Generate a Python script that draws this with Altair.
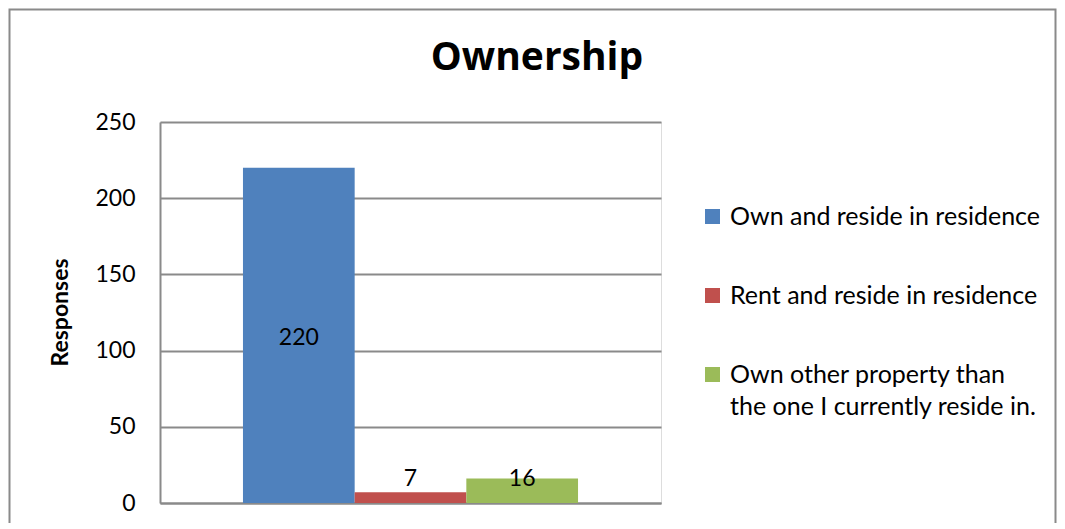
import altair as alt
import pandas as pd

categories = [
    "Own and reside in residence",
    "Rent and reside in residence",
    "Own other property than the one I currently reside in.",
]
values = [220, 7, 16]
colors = ["#4F81BD", "#C0504D", "#9BBB59"]
y_ticks = [0, 50, 100, 150, 200, 250]
chart_title = "Ownership"

df = pd.DataFrame({"category": categories, "value": values})

FONT = "Lato"
GRID = "#8a8a8a"

base = alt.Chart(df)

bars = base.mark_bar(size=111.7).encode(
    x=alt.X(
        "category:N",
        sort=categories,
        scale=alt.Scale(domain=categories, paddingInner=0, paddingOuter=0.743),
        axis=alt.Axis(
            labels=False, ticks=False, title=None, grid=False,
            domainColor=GRID, domainWidth=2,
        ),
    ),
    y=alt.Y(
        "value:Q",
        scale=alt.Scale(domain=[0, 250], nice=False),
        axis=alt.Axis(
            values=y_ticks, title="Responses", grid=True, gridColor=GRID,
            gridWidth=2, ticks=False, domainColor=GRID, domainWidth=2,
            labelFont=FONT, labelFontSize=23, labelColor="black", labelPadding=25,
            titleFont=FONT, titleFontSize=23, titleFontWeight="bold",
            titleColor="black", titleX=-93, titleY=190, titleAngle=270,
            titleBaseline="alphabetic", titleAlign="center",
        ),
    ),
    color=alt.Color(
        "category:N",
        sort=categories,
        scale=alt.Scale(domain=categories, range=colors),
        legend=alt.Legend(
            title=None, orient="none", legendX=540, legendY=82,
            symbolType="square", symbolSize=225, symbolStrokeWidth=0,
            labelFont=FONT, labelFontSize=25, labelColor="black",
            labelOffset=5, rowPadding=53, labelLimit=400, padding=0,
            labelExpr="datum.label == 'Own other property than the one I currently reside in.' ? ['Own other property than', 'the one I currently reside in.'] : datum.label",
        ),
    ),
)

labels = base.transform_calculate(
    ly="datum.value > 50 ? datum.value / 2 : 18"
).mark_text(font=FONT, fontSize=23, color="black", baseline="middle", dy=3).encode(
    x=alt.X("category:N", sort=categories),
    y=alt.Y("ly:Q"),
    text=alt.Text("value:Q"),
)

one = alt.Chart(pd.DataFrame({"t": [chart_title]}))

border = one.mark_rect(fill=None, stroke=GRID, strokeWidth=2).encode(
    x=alt.value(-150.5), x2=alt.value(895.5), y=alt.value(-112.5), y2=alt.value(700)
)

title = one.mark_text(
    font="Open Sans", fontSize=39, fontWeight="bold", color="black",
    baseline="alphabetic", align="center",
).encode(x=alt.value(377), y=alt.value(-52), text="t:N")

chart = alt.layer(border, bars, labels, title).properties(
    width=501,
    height=381,
    padding={"left": 152, "top": 114, "right": 396, "bottom": 20},
    autosize=alt.AutoSizeParams(type="none"),
).configure_view(stroke=None).configure(
    style={"guide-label": {"lineHeight": 32}}
)

chart.save("out.html", embed_options={"renderer": "svg", "actions": False})
